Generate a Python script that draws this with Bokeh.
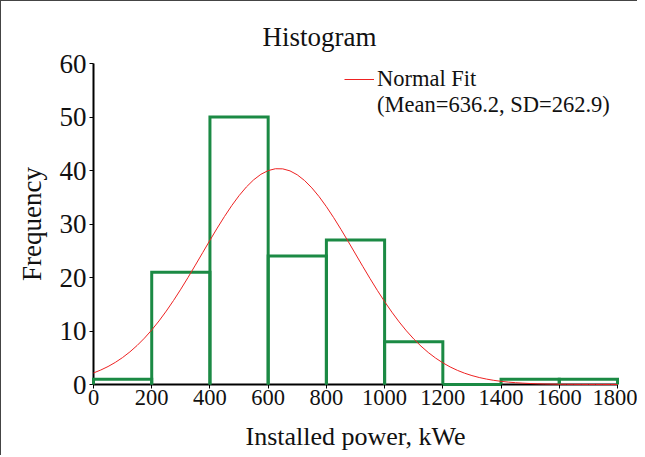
import numpy as np
from bokeh.plotting import figure
from bokeh.models import Legend, LegendItem, FixedTicker, Range1d
from bokeh.embed import file_html
from bokeh.resources import INLINE

# Data
bin_left = [0, 200, 400, 600, 800, 1000, 1200, 1400, 1600]
bin_right = [200, 400, 600, 800, 1000, 1200, 1400, 1600, 1800]
counts = [1, 21, 50, 24, 27, 8, 0, 1, 1]
fit_mean = 636.2
fit_sd = 262.9
x_ticks = [0, 200, 400, 600, 800, 1000, 1200, 1400, 1600, 1800]
y_ticks = [0, 10, 20, 30, 40, 50, 60]

FONT = "Liberation Serif"
GREEN = "#1b8a44"
RED = "#ee2222"
TXT = "#111111"

p = figure(width=637, height=455, output_backend="svg", toolbar_location=None,
           x_range=Range1d(0, 1800), y_range=Range1d(0, 60),
           min_border_left=92, min_border_right=21, min_border_top=62, min_border_bottom=72,
           title="Histogram")
p.outline_line_color = None
p.xgrid.visible = False
p.ygrid.visible = False
p.styles = {"border-top": "1px solid #444", "border-left": "1px solid #444"}

p.title.align = "left"
p.title.offset = 169
p.title.standoff = 24
p.title.text_font = FONT
p.title.text_font_size = "27px"
p.title.text_font_style = "normal"
p.title.text_color = TXT

# Histogram outlines (step outline per bin, no bottom edge)
bar_xs = [[l, l, r, r] for l, r in zip(bin_left, bin_right)]
bar_ys = [[0, c, c, 0] for c in counts]
p.multi_line(xs=bar_xs, ys=bar_ys, line_color=GREEN, line_width=3,
             line_join="miter", level="overlay")

# Normal fit curve scaled to the histogram (N * bin width * pdf)
n_total = sum(counts)
bw = bin_right[0] - bin_left[0]
xs = np.linspace(0, 1800, 73)
ys = n_total * bw / (fit_sd * np.sqrt(2 * np.pi)) * np.exp(-0.5 * ((xs - fit_mean) / fit_sd) ** 2)
fit = p.line(xs, ys, line_color=RED, line_width=1, level="overlay")
blank = p.line([], [], line_alpha=0)

legend = Legend(items=[LegendItem(label="Normal Fit", renderers=[fit]),
                       LegendItem(label="(Mean=636.2, SD=262.9)", renderers=[blank])],
                location=(251, 266), padding=0, margin=0, spacing=0,
                glyph_width=30, glyph_height=20, label_standoff=3, label_height=20,
                label_text_font=FONT, label_text_font_size="22.5px", label_text_color=TXT,
                border_line_color=None, background_fill_alpha=0)
p.add_layout(legend, "center")

for ax in (p.xaxis[0], p.yaxis[0]):
    ax.axis_line_color = "black"
    ax.axis_line_width = 2
    ax.major_tick_line_color = "black"
    ax.major_tick_line_width = 1
    ax.major_tick_out = 4
    ax.major_tick_in = 0
    ax.minor_tick_line_color = None
    ax.major_label_text_font = FONT
    ax.major_label_text_color = TXT
    ax.axis_label_text_font = FONT
    ax.axis_label_text_font_style = "normal"
    ax.axis_label_text_color = TXT

p.xaxis[0].ticker = FixedTicker(ticks=x_ticks)
p.yaxis[0].ticker = FixedTicker(ticks=y_ticks)
p.xaxis[0].major_label_text_font_size = "22.5px"
p.yaxis[0].major_label_text_font_size = "27px"
p.xaxis[0].major_label_standoff = 1
p.yaxis[0].major_label_standoff = 3
p.xaxis[0].axis_label = "Installed power, kWe"
p.yaxis[0].axis_label = "Frequency"
p.xaxis[0].axis_label_text_font_size = "26px"
p.yaxis[0].axis_label_text_font_size = "27px"
p.xaxis[0].axis_label_standoff = 14
p.yaxis[0].axis_label_standoff = 10

open("out.html", "w").write(file_html(p, INLINE))
